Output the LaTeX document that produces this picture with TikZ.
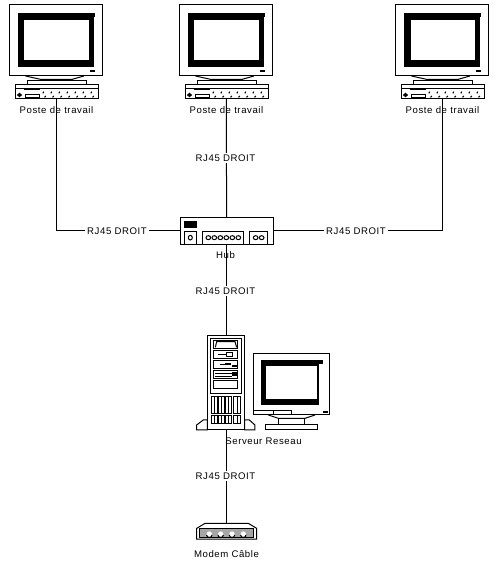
\documentclass[tikz,border=0pt]{standalone}
\usepackage{fontspec}
\setmainfont{Liberation Sans}
\newfontfamily\lab[LetterSpace=6]{Liberation Sans}
\tikzset{
  px/.style={x=0.3333pt,y=-0.3333pt},
  ln/.style={draw=black,line width=1pt},
  bk/.style={fill=black,draw=none},
  anchorbox/.style={inner sep=0pt,outer sep=0pt,draw=none},
  lbl/.style={font=\lab\fontsize{9.6}{11}\selectfont,inner sep=0pt,text=black},
  rjl/.style={lbl,fill=white,inner xsep=2pt,inner ysep=2pt},
  wire/.style={draw=black,line width=1pt}
}
\newcommand{\crtmonitor}{%
  \draw[ln,fill=white] (28,14) rectangle (305,228);
  \fill[bk] (52,40) rectangle (285,52);
  \fill[bk] (52,40) rectangle (280,200);
  \fill[white] (72,60) rectangle (265,180);
  \fill[bk] (270,210) rectangle (285,217);
}
\newcommand{\workstation}[2]{%
  \begin{scope}[shift={(#2,0)},px]
    \crtmonitor
    \draw[ln] (75,228) -- (120,238) -- (215,238) -- (250,228);
    \draw[ln] (120,238) -- (120,242) (215,238) -- (215,242);
    \draw[ln] (80,242) rectangle (258,253);
    \draw[ln,fill=white] (45,254) rectangle (293,296);
    \draw[ln] (45,266) -- (293,266);
    \fill[bk] (70,263) rectangle (118,269);
    \fill[bk] (57,278) -- (65,285) -- (57,292) -- (49,285) -- cycle;
    \draw[ln] (75,283) rectangle (118,292);
    \foreach \tx in {130,154,178,202,226,250,274}{
      \draw[ln] (\tx,275) -- (\tx-3,280);
      \draw[ln] (\tx+6,288) -- (\tx+2,292);
    }
    \node[anchorbox,minimum width=83pt,minimum height=99pt] (#1) at (168,148.5) {};
  \end{scope}%
}
\begin{document}
\begin{tikzpicture}[x=1pt,y=-1pt]
\useasboundingbox (0,0) rectangle (498,568);
\fill[white] (0,0) rectangle (498,568);

\workstation{wsa}{0.5}
\workstation{wsb}{170.5}
\workstation{wsc}{386.5}

% hub
\node[anchorbox,draw=black,line width=1pt,fill=white,minimum width=93pt,minimum height=27pt] (hub) at (226.5,230.5) {};
\begin{scope}[shift={(170,205)},px]
  \fill[bk] (42,47) rectangle (81,68);
  \draw[ln] (43,79) rectangle (80,118);
  \draw[ln] (98,79) rectangle (220,118);
  \draw[ln] (238,79) rectangle (293,118);
  \draw[ln] (61,98) ellipse (6 and 7);
  \foreach \cx in {115,133,151,169,187,205}{\draw[ln] (\cx,98) ellipse (7 and 6);}
  \draw[ln] (257,98) ellipse (7 and 6);
  \draw[ln] (275,98) ellipse (7 and 6);
\end{scope}

% server tower
\node[anchorbox,minimum width=38pt,minimum height=95pt] (srv) at (226.5,382.5) {};
\begin{scope}[shift={(190,325)},px]
  \draw[ln,fill=white] (20,300) -- (40,285) -- (52,285) -- (52,315) -- (20,315) -- cycle;
  \draw[ln,fill=white] (195,300) -- (178,285) -- (164,285) -- (164,315) -- (195,315) -- cycle;
  \draw[ln,fill=white] (52,30) rectangle (164,315);
  \draw[ln] (62,40) rectangle (154,205);
  \draw[ln] (72,45) rectangle (143,70);
  \draw[ln] (76,67) -- (80,50) -- (135,50) -- (140,67);
  \draw[ln] (72,76) rectangle (143,100);
  \draw[ln] (85,88) -- (110,88);
  \draw[ln] (110,82) rectangle (127,94);
  \draw[ln] (72,106) rectangle (143,130);
  \draw[ln] (90,118) -- (105,118);
  \fill[bk] (105,115) rectangle (122,121);
  \fill[bk] (127,121) rectangle (140,126);
  \draw[ln] (72,136) rectangle (143,160);
  \draw[ln] (75,146) -- (125,146) (75,154) -- (125,154);
  \fill[bk] (126,140) rectangle (140,152);
  \draw[ln] (72,166) rectangle (143,190);
  \foreach \sx/\ex in {65/82,87/103,108/124,131/152}{
    \draw[ln] (\sx,215) rectangle (\ex,265);
    \draw[ln] (\sx,272) rectangle (\ex,295);
    \draw[ln] ({(\sx+\ex)/2},215) -- ({(\sx+\ex)/2},265);
    \draw[ln] ({(\sx+\ex)/2},272) -- ({(\sx+\ex)/2},295);
  }
\end{scope}

% server monitor
\begin{scope}[shift={(190,325)},px]
  \draw[ln,fill=white] (192,85) rectangle (418,270);
  \fill[bk] (214,105) rectangle (398,118);
  \fill[bk] (214,105) rectangle (388,240);
  \fill[white] (228,122) rectangle (382,222);
  \draw[ln] (192,258) -- (305,258) (250,258) -- (250,270) (305,258) -- (305,270);
  \fill[bk] (400,258) rectangle (414,263);
  \draw[ln] (235,270) -- (265,280) -- (345,280) -- (375,270);
  \draw[ln] (265,280) -- (265,300) (345,280) -- (345,300);
  \draw[ln] (226,300) rectangle (383,314);
\end{scope}

% modem
\node[anchorbox,minimum width=60pt,minimum height=17pt] (mod) at (226.5,531) {};
\begin{scope}[shift={(180,515)},px]
  \draw[ln,fill=white] (50,40) -- (75,25) -- (205,25) -- (230,40) -- (230,72) -- (50,72) -- cycle;
  \draw[ln,fill=black!35] (60,40) rectangle (220,66);
  \foreach \mx in {88,122,156,190}{
    \fill[white] (\mx,57) circle (8);
    \draw[ln] (\mx-8,60) arc[start angle=180,end angle=0,radius=8];
  }
\end{scope}

% connectors
\draw[wire] (wsa.south) |- (hub.west);
\draw[wire] (wsc.south) |- (hub.east);
\draw[wire] (wsb.south) -- (hub.north);
\draw[wire] (hub.south) -- (srv.north);
\draw[wire] (srv.south) -- (mod.north);

% labels
\node[lbl] (la) at (56.5,110.5) {Poste de travail};
\node[lbl] (lb) at (226.5,110.5) {Poste de travail};
\node[lbl] (lc) at (442.5,110.5) {Poste de travail};
\node[lbl] (lh) at (225.5,255) {Hub};
\node[lbl] (ls) at (263.5,441) {Serveur Reseau};
\node[lbl] (lm) at (226.5,554) {Modem Câble};
\node[rjl] (r1) at (117,231) {RJ45 DROIT};
\node[rjl] (r2) at (225.5,158) {RJ45 DROIT};
\node[rjl] (r3) at (356,231) {RJ45 DROIT};
\node[rjl] (r4) at (225.5,291) {RJ45 DROIT};
\node[rjl] (r5) at (225.5,476) {RJ45 DROIT};
\end{tikzpicture}
\end{document}
